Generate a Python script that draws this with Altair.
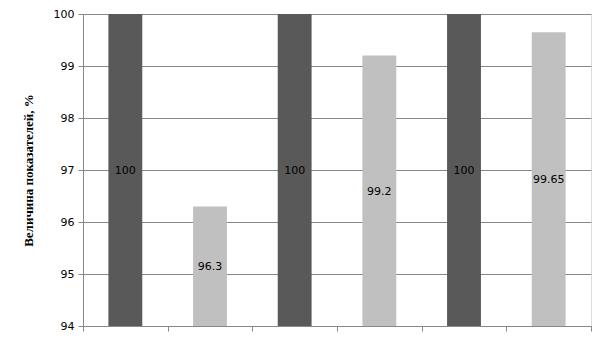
import altair as alt
import pandas as pd

categories = ["A1", "B1", "A2", "B2", "A3", "B3"]
values = [100, 96.3, 100, 99.2, 100, 99.65]
labels = ["100", "96.3", "100", "99.2", "100", "99.65"]
series = ["base", "actual", "base", "actual", "base", "actual"]

df = pd.DataFrame({
    "cat": categories,
    "value": values,
    "label": labels,
    "series": series,
})
df["idx"] = range(len(df))
df["x0"] = df["idx"] + 0.3
df["x1"] = df["idx"] + 0.7
df["xm"] = df["idx"] + 0.5
df["base"] = 94
df["mid"] = (df["value"] + 94) / 2

xscale = alt.Scale(domain=[0, 6], nice=False, zero=False)
yscale = alt.Scale(domain=[94, 100], nice=False, zero=False)

base = alt.Chart(df)

bars = base.mark_bar(clip=True).encode(
    x=alt.X("x0:Q", scale=xscale,
            axis=alt.Axis(values=[0, 1, 2, 3, 4, 5, 6], labels=False, title=None,
                          grid=False, tickColor="#888888", domainColor="#888888",
                          tickSize=5)),
    x2="x1:Q",
    y=alt.Y("value:Q", scale=yscale,
            axis=alt.Axis(values=[94, 95, 96, 97, 98, 99, 100],
                          title="Величина показателей, %",
                          titleFont="Liberation Serif", titleFontSize=13,
                          titleFontWeight="bold", titleColor="black",
                          titlePadding=18,
                          labelFont="DejaVu Sans", labelFontSize=11, labelColor="black",
                          labelPadding=4,
                          gridColor="#888888", gridWidth=1,
                          tickColor="#888888", domainColor="#888888", tickSize=5)),
    y2="base:Q",
    color=alt.Color("series:N",
                    scale=alt.Scale(domain=["base", "actual"], range=["#595959", "#c0c0c0"]),
                    legend=None),
)

text = base.mark_text(font="DejaVu Sans", fontSize=11, color="black", dy=1).encode(
    x=alt.X("xm:Q", scale=xscale),
    y=alt.Y("mid:Q", scale=yscale),
    text="label:N",
)

chart = (bars + text).properties(
    width=508, height=312,
    autosize=alt.AutoSizeParams(type="none"),
    padding={"left": 83, "top": 14, "right": 14, "bottom": 14},
).configure_view(stroke=None).configure(background="white")

chart.save("out.html", embed_options={"renderer": "svg", "actions": False})
